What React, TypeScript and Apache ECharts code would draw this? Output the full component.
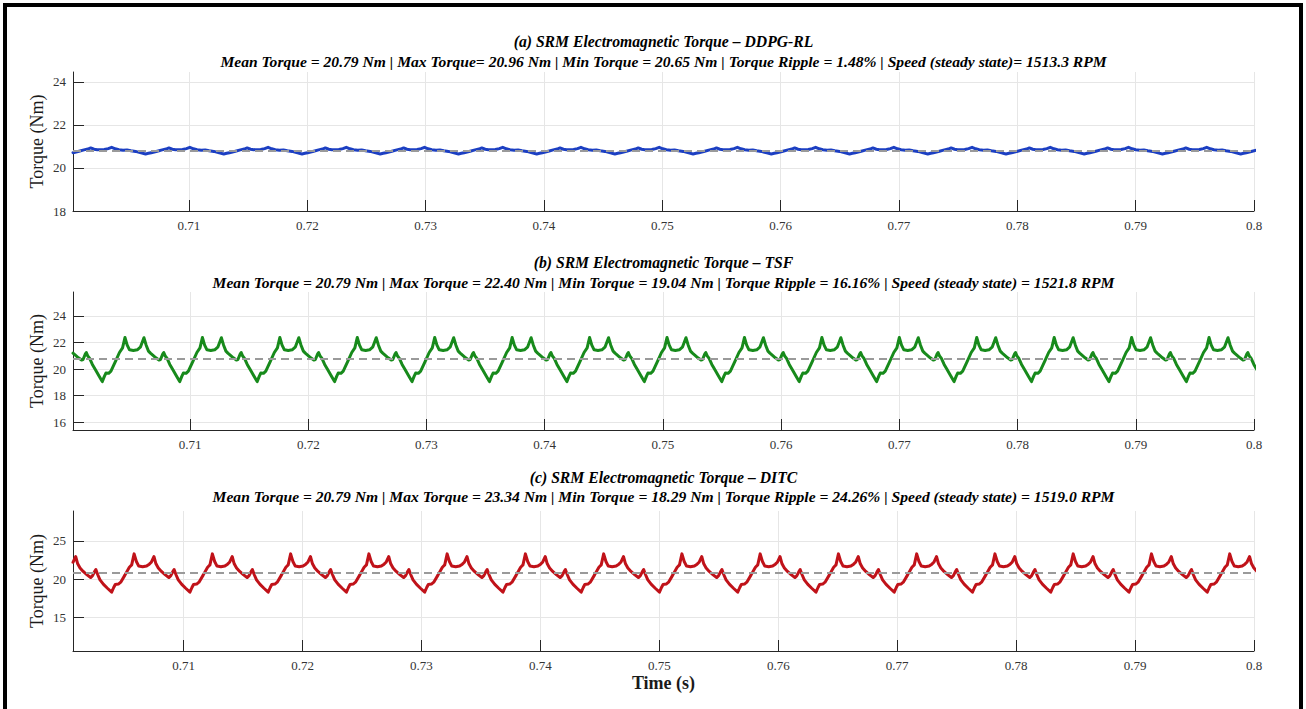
import React, { useEffect, useRef } from "react";
import * as echarts from "echarts";

// ---- axis ticks / labels ----
const xTickValues = [0.71, 0.72, 0.73, 0.74, 0.75, 0.76, 0.77, 0.78, 0.79, 0.8];
const xTickLabels = ["0.71", "0.72", "0.73", "0.74", "0.75", "0.76", "0.77", "0.78", "0.79", "0.8"];
const xStart = [0.7002, 0.7001, 0.7007];
const xEnd = 0.8;

const yTicksA = [18, 20, 22, 24];
const yTicksB = [16, 18, 20, 22, 24];
const yTicksC = [15, 20, 25];
const yMin = [18, 15.42, 10.6];
const yMax = [24.46, 25.8, 28.9];

const titleMain = [
  "(a) SRM Electromagnetic Torque – DDPG-RL",
  "(b) SRM Electromagnetic Torque – TSF",
  "(c) SRM Electromagnetic Torque – DITC",
];
const titleStats = [
  "Mean Torque = 20.79 Nm | Max Torque= 20.96 Nm | Min Torque = 20.65 Nm | Torque Ripple = 1.48% | Speed (steady state)= 1513.3 RPM",
  "Mean Torque = 20.79 Nm | Max Torque = 22.40 Nm | Min Torque = 19.04 Nm | Torque Ripple = 16.16% | Speed (steady state) = 1521.8 RPM",
  "Mean Torque = 20.79 Nm | Max Torque = 23.34 Nm | Min Torque = 18.29 Nm | Torque Ripple = 24.26% | Speed (steady state) = 1519.0 RPM",
];
const meanTorque = [20.79, 20.79, 20.79];

// ---- one torque cycle (phase within cycle, Nm) ----
// cycle length read as spacing between repeating dips (s)
const cycleLen = [0.00661, 0.00655, 0.00658];

const phaseA = [0, 0.077, 0.14, 0.19, 0.226, 0.27, 0.31, 0.4, 0.45, 0.494, 0.54, 0.587, 0.64, 0.69, 0.74, 0.8, 0.87, 0.928, 0.965];
const torqueA = [20.71, 20.78, 20.84, 20.88, 20.93, 20.87, 20.85, 20.86, 20.9, 20.96, 20.89, 20.85, 20.82, 20.84, 20.8, 20.77, 20.7, 20.65, 20.68];

const phaseB = [0, 0.03, 0.07, 0.11, 0.13, 0.16, 0.172, 0.19, 0.215, 0.25, 0.29, 0.34, 0.378, 0.405, 0.425, 0.46, 0.49, 0.55, 0.6, 0.64, 0.671, 0.7, 0.73, 0.78, 0.83, 0.87, 0.916, 0.945, 0.975];
const torqueB = [21.2, 21.05, 20.85, 20.68, 20.72, 21.15, 21.25, 21.0, 20.8, 20.35, 19.95, 19.45, 19.06, 19.45, 19.7, 19.68, 19.85, 20.6, 21.25, 21.6, 22.38, 21.8, 21.45, 21.4, 21.45, 21.65, 22.36, 21.8, 21.35];

const phaseC = [0, 0.034, 0.06, 0.09, 0.13, 0.18, 0.225, 0.25, 0.28, 0.292, 0.315, 0.345, 0.39, 0.44, 0.494, 0.52, 0.54, 0.58, 0.61, 0.665, 0.72, 0.75, 0.781, 0.81, 0.84, 0.89, 0.94, 0.975];
const torqueC = [22.2, 22.95, 22.0, 21.45, 21.0, 20.55, 20.2, 20.45, 21.05, 21.25, 20.6, 19.9, 19.3, 18.8, 18.29, 18.9, 19.3, 19.35, 19.6, 20.55, 21.55, 21.85, 23.3, 22.3, 21.7, 21.6, 21.7, 21.95];

const lineColors = ["#1c3fc2", "#178a1b", "#c01219"];

function repeatCycle(start: number, period: number, phases: number[], values: number[], end: number) {
  const out: number[][] = [];
  for (let n = 0; n < 100; n++) {
    for (let i = 0; i < phases.length; i++) {
      const t = start + (n + phases[i]) * period;
      out.push([t, values[i]]);
      if (t > end) return out;
    }
  }
  return out;
}

const seriesData = [
  repeatCycle(xStart[0], cycleLen[0], phaseA, torqueA, xEnd),
  repeatCycle(xStart[1], cycleLen[1], phaseB, torqueB, xEnd),
  repeatCycle(xStart[2], cycleLen[2], phaseC, torqueC, xEnd),
];
const yTicks = [yTicksA, yTicksB, yTicksC];

const gridTop = [72, 292, 511];
const gridHeight = [139, 138, 140];
const GRID_LEFT = 73;
const GRID_WIDTH = 1181;
const CENTER_X = GRID_LEFT + GRID_WIDTH / 2;
const titleY = [41.5, 262.5, 477];

const SERIF = "'Liberation Serif', 'Times New Roman', serif";

export default function App() {
  const ref = useRef<HTMLDivElement>(null);
  useEffect(() => {
    if (!ref.current) return;
    const chart = echarts.init(ref.current, null, { renderer: "svg" });
    const axisColor = "#262626";
    const gridColor = "#e6e6e6";
    const option: any = {
      animation: false,
      backgroundColor: "#ffffff",
      grid: [0, 1, 2].map((i) => ({
        left: GRID_LEFT,
        top: gridTop[i],
        width: GRID_WIDTH,
        height: gridHeight[i],
        containLabel: false,
        outerBoundsMode: "none",
      })),
      xAxis: [0, 1, 2].map((i) => ({
        type: "value",
        gridIndex: i,
        min: xStart[i],
        max: xEnd,
        name: i === 2 ? "Time (s)" : "",
        nameLocation: "middle",
        nameGap: 23,
        nameMoveOverlap: false,
        nameTextStyle: { fontFamily: SERIF, fontSize: 18, fontWeight: "bold", color: "#1a1a1a" },
        axisLine: { show: true, onZero: false, lineStyle: { color: axisColor, width: 1 } },
        axisTick: { show: true, inside: true, length: 11, customValues: xTickValues, lineStyle: { color: axisColor, width: 1 } },
        axisLabel: {
          show: true,
          customValues: xTickValues,
          margin: 8,
          fontFamily: SERIF,
          fontSize: 13,
          color: "#333333",
          formatter: (v: number) => {
            const k = xTickValues.findIndex((x) => Math.abs(x - v) < 1e-7);
            return k >= 0 ? xTickLabels[k] : "";
          },
        },
        splitLine: { show: true, lineStyle: { color: gridColor, width: 1 } },
      })),
      yAxis: [0, 1, 2].map((i) => ({
        type: "value",
        gridIndex: i,
        min: yMin[i],
        max: yMax[i],
        name: "Torque (Nm)",
        nameLocation: "middle",
        nameGap: 27,
        nameMoveOverlap: false,
        nameRotate: 90,
        nameTextStyle: { fontFamily: SERIF, fontSize: 18, color: "#1a1a1a" },
        axisLine: { show: true, onZero: false, lineStyle: { color: axisColor, width: 1 } },
        axisTick: { show: true, inside: true, length: 11, customValues: yTicks[i], lineStyle: { color: axisColor, width: 1 } },
        axisLabel: {
          show: true,
          customValues: yTicks[i],
          margin: 7,
          fontFamily: SERIF,
          fontSize: 13,
          color: "#333333",
        },
        splitLine: { show: true, lineStyle: { color: gridColor, width: 1 } },
      })),
      series: [0, 1, 2].map((i) => ({
        type: "line",
        xAxisIndex: i,
        yAxisIndex: i,
        data: seriesData[i],
        showSymbol: false,
        symbol: "none",
        clip: true,
        lineStyle: { color: lineColors[i], width: 3, join: "round", cap: "round" },
        markLine: {
          silent: true,
          symbol: ["none", "none"],
          label: { show: false },
          lineStyle: { color: "#9a9a9a", width: 2, type: [8, 5] },
          data: [{ yAxis: meanTorque[i] }],
        },
      })),
      graphic: [
        {
          type: "rect",
          silent: true,
          shape: { x: 5, y: 5, width: 1296, height: 720 },
          style: { fill: "none", stroke: "#000", lineWidth: 4 },
        },
        ...[0, 1, 2].flatMap((i) => [
          {
            type: "text",
            x: CENTER_X,
            y: titleY[i],
            style: {
              text: titleMain[i],
              font: `italic bold 15.7px ${SERIF}`,
              fill: "#000",
              textAlign: "center",
              textVerticalAlign: "middle",
            },
          },
          {
            type: "text",
            x: CENTER_X,
            y: titleY[i] + 19.5,
            style: {
              text: titleStats[i],
              font: `italic bold 15.6px ${SERIF}`,
              fill: "#000",
              textAlign: "center",
              textVerticalAlign: "middle",
            },
          },
        ]),
      ],
    };
    chart.setOption(option);
    return () => chart.dispose();
  }, []);
  return (
    <div
      ref={ref}
      style={{ position: "fixed", left: 0, top: 0, width: 1306, height: 709, background: "#fff" }}
    />
  );
}
